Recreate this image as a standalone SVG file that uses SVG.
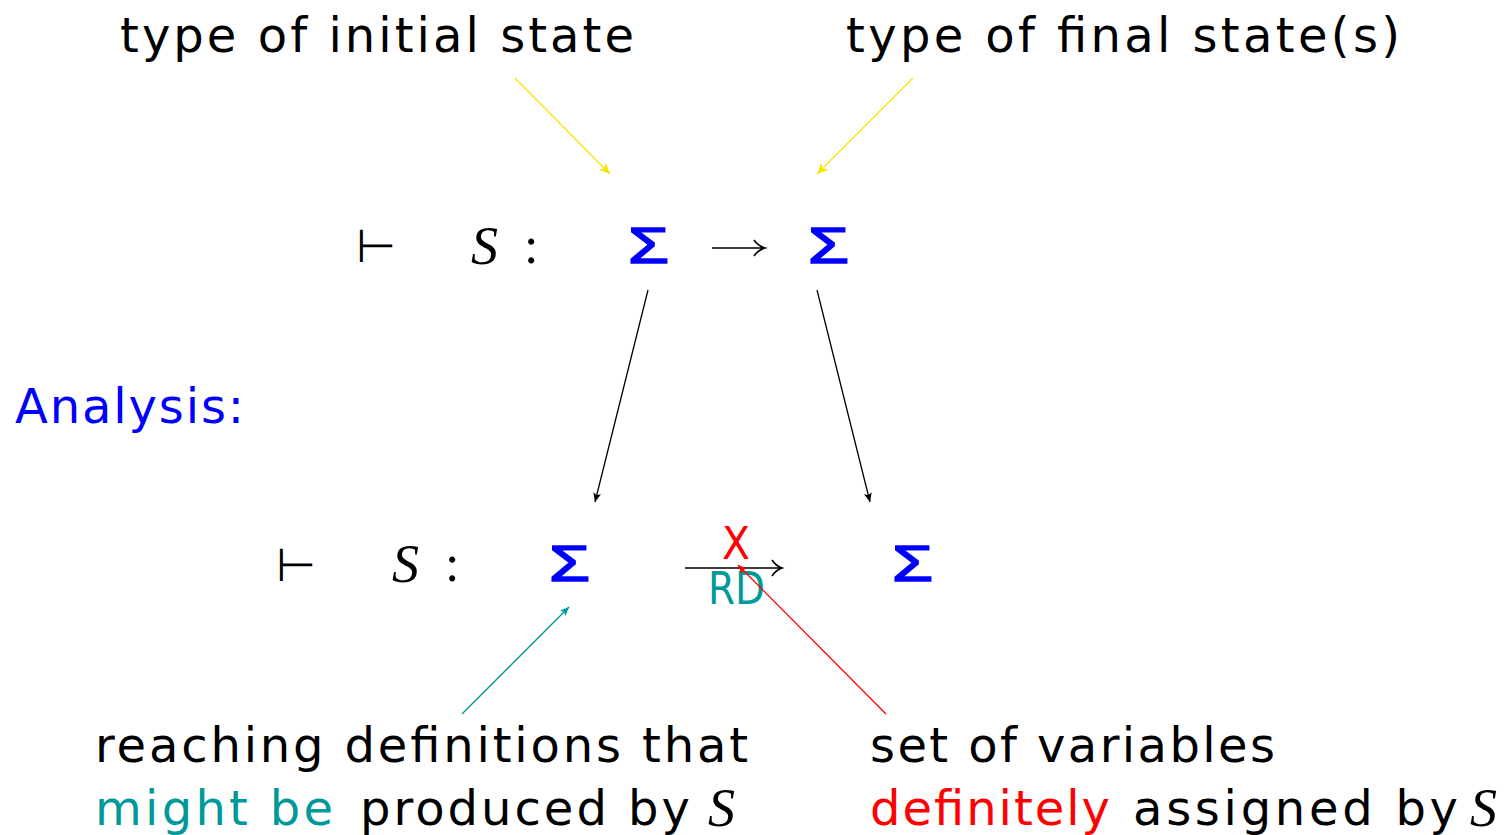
<svg xmlns="http://www.w3.org/2000/svg" width="1508" height="835" viewBox="0 0 1508 835">
<style>
.t{font-family:"DejaVu Sans","Liberation Sans",sans-serif;font-size:48px;fill:#000}
.m{font-family:"Liberation Serif",serif;font-style:italic;font-size:54px;fill:#000}
.c{font-family:"Liberation Serif",serif;font-size:52px;fill:#000}
.sig{font-family:"Liberation Sans",sans-serif;font-size:50px;fill:#0000ff;stroke:#0000ff;stroke-width:1.6}
.sym{font-family:"DejaVu Sans",sans-serif;font-size:46px;fill:#000}
.blue{fill:#0000ff}
.teal{fill:#009999}
.red{fill:#ff0000}
.ln{fill:none;stroke-width:1.3}
.math-arrow{fill:none;stroke:#000;stroke-width:1.6}
</style>
<defs>
<marker id="ay" markerWidth="12" markerHeight="10" refX="11" refY="5" orient="auto" markerUnits="userSpaceOnUse"><path d="M0,0 L11,5 L0,10 L3,5 Z" fill="#f5e600"/></marker>
<marker id="ak" markerWidth="10" markerHeight="8" refX="9" refY="4" orient="auto" markerUnits="userSpaceOnUse"><path d="M0,0 L9,4 L0,8 L2,4 Z" fill="#000"/></marker>
<marker id="at" markerWidth="10" markerHeight="8" refX="9" refY="4" orient="auto" markerUnits="userSpaceOnUse"><path d="M0,0 L9,4 L0,8 L2,4 Z" fill="#009999"/></marker>
<marker id="ar" markerWidth="10" markerHeight="8" refX="9" refY="4" orient="auto" markerUnits="userSpaceOnUse"><path d="M0,0 L9,4 L0,8 L2,4 Z" fill="#ff0000"/></marker>
</defs>

<g id="label-initial"><text class="t" x="120" y="52" textLength="514" lengthAdjust="spacing">type of initial state</text></g>
<g id="label-final"><text class="t" x="846" y="52" textLength="554" lengthAdjust="spacing">type of final state(s)</text></g>

<g id="formula-top">
<text class="sym" x="356" y="262">⊢</text>
<text class="m" x="471" y="264">S</text>
<text class="c" x="524" y="263">:</text>
<text id="sigma-top-in" class="sig" x="628" y="263" textLength="41" lengthAdjust="spacingAndGlyphs">Σ</text>
<path class="math-arrow" d="M712,248 H764 M754,240 Q758,246 765,248 Q758,250 754,256"/>
<text id="sigma-top-out" class="sig" x="808" y="263" textLength="41" lengthAdjust="spacingAndGlyphs">Σ</text>
</g>

<g id="label-analysis"><text class="t blue" x="15" y="423" textLength="229" lengthAdjust="spacing">Analysis:</text></g>

<g id="formula-bottom">
<text class="sym" x="276" y="581">⊢</text>
<text class="m" x="392" y="582">S</text>
<text class="c" x="445" y="581">:</text>
<text id="sigma-bot-in" class="sig" x="549" y="581" textLength="41" lengthAdjust="spacingAndGlyphs">Σ</text>
<path class="math-arrow" d="M685,568 H781 M772,560 Q776,566 782,568 Q776,570 772,576"/>
<text class="t red" x="722" y="559" style="font-size:44px" textLength="28" lengthAdjust="spacingAndGlyphs">X</text>
<text class="t teal" x="708" y="604" style="font-size:44px" textLength="57" lengthAdjust="spacingAndGlyphs">RD</text>
<text id="sigma-bot-out" class="sig" x="892" y="581" textLength="41" lengthAdjust="spacingAndGlyphs">Σ</text>
</g>

<g id="label-reaching">
<text class="t" x="95" y="762" textLength="653" lengthAdjust="spacing">reaching definitions that</text>
<text class="t" y="825"><tspan class="teal" x="95" textLength="238" lengthAdjust="spacing">might be</tspan><tspan x="360" textLength="330" lengthAdjust="spacing">produced by</tspan></text>
<text class="m" x="708" y="826">S</text>
</g>

<g id="label-variables">
<text class="t" x="870" y="762" textLength="405" lengthAdjust="spacing">set of variables</text>
<text class="t" y="825"><tspan class="red" x="870" textLength="240" lengthAdjust="spacing">definitely</tspan><tspan x="1133" textLength="325" lengthAdjust="spacing">assigned by</tspan></text>
<text class="m" x="1470" y="826">S</text>
</g>

<g id="connectors">
<line class="ln" x1="515" y1="78" x2="610" y2="174" stroke="#f5e600" marker-end="url(#ay)"/>
<line class="ln" x1="913" y1="78" x2="817" y2="174" stroke="#f5e600" marker-end="url(#ay)"/>
<line class="ln" x1="648" y1="290" x2="595" y2="502" stroke="#000" stroke-width="1" marker-end="url(#ak)"/>
<line class="ln" x1="817" y1="290" x2="870" y2="502" stroke="#000" stroke-width="1" marker-end="url(#ak)"/>
<line class="ln" x1="462" y1="714" x2="569" y2="607" stroke="#009999" stroke-width="1" marker-end="url(#at)"/>
<line class="ln" x1="886" y1="714" x2="738" y2="565" stroke="#ff0000" stroke-width="1" marker-end="url(#ar)"/>
</g>
</svg>
